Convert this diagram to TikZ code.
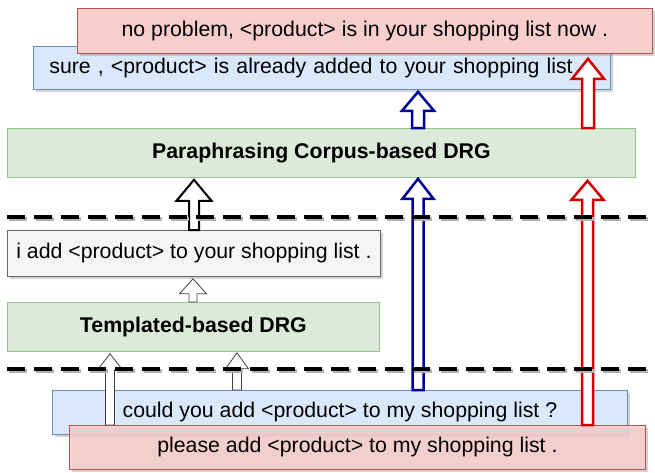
\documentclass[tikz,border=0pt]{standalone}
\usepackage{fontspec}
\setmainfont{Liberation Sans}
\usetikzlibrary{calc,shadows}

\definecolor{redfill}{HTML}{F8CECC}
\definecolor{redline}{HTML}{B85450}
\definecolor{bluefill}{HTML}{DAE8FC}
\definecolor{blueline}{HTML}{6C8EBF}
\definecolor{greenfill}{HTML}{DCEBD9}
\definecolor{greenline}{HTML}{97C58A}
\definecolor{greyfill}{HTML}{F5F5F5}
\definecolor{greyline}{HTML}{666666}
\definecolor{darkblue}{HTML}{000099}
\definecolor{darkred}{HTML}{D00000}

% hollow block arrow going up: style, x, bottom, tip, shaft half, head half, head length
\newcommand{\blockup}[7]{%
    \draw[#1] let \p1=(#3), \p2=(#4) in
        (#2pt-#5pt,\y1) -- (#2pt-#5pt,\y2-#7pt) -- (#2pt-#6pt,\y2-#7pt) -- (#2pt,\y2)
        -- (#2pt+#6pt,\y2-#7pt) -- (#2pt+#5pt,\y2-#7pt) -- (#2pt+#5pt,\y1) -- cycle;}

\begin{document}
\begin{tikzpicture}[x=1pt,y=-1pt,
    every node/.style={font=\fontsize{21.3}{25}\selectfont, inner sep=0pt},
    box/.style={draw, line width=0.8pt, anchor=north west,
        drop shadow={shadow xshift=2.5pt, shadow yshift=-2.5pt, opacity=0.35}},
    redbox/.style={box, fill=redfill, draw=redline},
    bluebox/.style={box, fill=bluefill, draw=blueline},
    greybox/.style={box, fill=greyfill, draw=greyline},
    drgbox/.style={draw=greenline, fill=greenfill, line width=0.8pt, anchor=north west,
        font=\fontsize{21.3}{25}\selectfont\bfseries},
    sep/.style={line width=4pt, dash pattern=on 18pt off 9pt},
    blk/.style={draw=black, fill=white, line width=2pt, line join=miter},
    thin/.style={draw=black!75, fill=white, line width=0.8pt},
    bluearr/.style={draw=darkblue, fill=white, line width=2.5pt},
    redarr/.style={draw=darkred, fill=white, line width=2.5pt}]
    \useasboundingbox (0,0) rectangle (655,472);

    % outputs of the paraphrasing DRG
    \node[bluebox, minimum width=577pt, minimum height=43pt, text width=545pt, align=left]
        (ans1) at (33,46) {sure , <product> is already added to your shopping list};
    \node[redbox, minimum width=575pt, minimum height=45pt]
        (ans2) at (77,8) {no problem, <product> is in your shopping list now .};

    % generators
    \node[drgbox, minimum width=628pt, minimum height=49pt]
        (para) at (7,128) {Paraphrasing Corpus-based DRG};
    \node[greybox, minimum width=373pt, minimum height=46pt]
        (out) at (7,230) {i add <product> to your shopping list .};
    \node[drgbox, minimum width=372pt, minimum height=49pt]
        (templ) at (7,302) {Templated-based DRG};

    % user requests
    \node[bluebox, minimum width=575pt, minimum height=44pt]
        (q1) at (52,390) {could you add <product> to my shopping list ?};
    \node[redbox, fill opacity=0.85, text opacity=1, minimum width=576pt, minimum height=44pt]
        (q2) at (69,425) {please add <product> to my shopping list .};

    % arrows
    \blockup{blk}{194}{out.north}{[yshift=-2pt]para.south}{5}{17.5}{21}
    \blockup{thin}{193}{templ.north}{[yshift=-2pt]out.south}{4}{13.5}{15}
    \blockup{thin}{110}{q2.north}{[yshift=-2pt]templ.south}{4.5}{12.5}{16}
    \blockup{thin}{237}{q1.north}{[yshift=-1pt]templ.south}{4.5}{11.5}{16}
    \blockup{bluearr}{418}{q1.north}{[yshift=-1pt]para.south}{5.5}{15.5}{20}
    \blockup{bluearr}{418}{para.north}{[yshift=-2pt]ans1.south}{6}{16}{19}
    \blockup{redarr}{587.5}{q2.north}{[yshift=-3pt]para.south}{5.5}{16}{19}
    \blockup{redarr}{588}{para.north}{[yshift=-5pt]ans2.south}{6}{16}{20}

    % separators
    \draw[sep, black!30] (8.5,218.5) -- (656.5,218.5);
    \draw[sep] (7,217) -- (655,217);
    \draw[sep, black!30] (8.5,370.5) -- (656.5,370.5);
    \draw[sep] (7,369) -- (655,369);
\end{tikzpicture}
\end{document}
